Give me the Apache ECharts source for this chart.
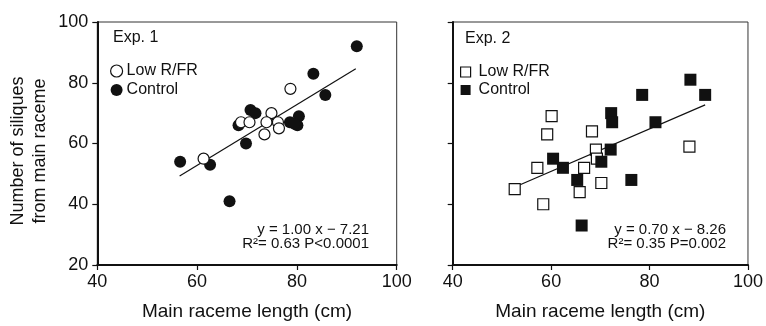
<!DOCTYPE html>
<html>
<head>
<meta charset="utf-8">
<script src="https://cdn.jsdelivr.net/npm/echarts@6/dist/echarts.min.js"></script>
<style>
  html, body { margin: 0; padding: 0; background: #fff; }
  #chart { width: 766px; height: 326px; }
</style>
</head>
<body>
<div id="chart"></div>
<script>
// x ticks and y ticks shared by both panels
const xTicks = [40, 60, 80, 100];
const yTicks = [20, 40, 60, 80, 100];

// Exp. 1 (circles)
const exp1Low = [
  [78.7, 78], [61.3, 55], [68.8, 67], [70.5, 67], [74.9, 70],
  [73.9, 67], [73.5, 63], [76.2, 67], [76.4, 65]
];
const exp1Control = [
  [92, 92], [83.3, 83], [85.7, 76], [56.6, 54], [62.6, 53],
  [66.5, 41], [69.8, 60], [68.3, 66], [70.7, 71], [71.7, 70],
  [78.6, 67], [80.4, 69], [80.1, 66], [79.5, 66.5]
];
const exp1Fit = [[56.5, 49.3], [91.8, 84.6]];

// Exp. 2 (squares)
const exp2Low = [
  [52.6, 45], [57.2, 52], [58.4, 40], [59.2, 63], [60.1, 69],
  [65.8, 44], [66.7, 52], [68.3, 64], [69.1, 58], [69.3, 55],
  [70.2, 47], [88.1, 59]
];
const exp2Control = [
  [88.3, 81], [91.3, 76], [78.5, 76], [81.2, 67], [72.2, 70],
  [72.4, 67], [72.1, 58], [70.2, 54], [60.4, 55], [62.4, 52],
  [65.3, 48], [76.3, 48], [66.2, 33]
];
const exp2Fit = [[52.4, 45.5], [91.3, 72.7]];

const font = "'Liberation Sans', Arial, sans-serif";
const ink = "#111";

const chart = echarts.init(document.getElementById("chart"));

function xAxisFor(gridIndex) {
  return {
    type: "value",
    gridIndex: gridIndex,
    min: xTicks[0],
    max: xTicks[xTicks.length - 1],
    interval: 20,
    name: "Main raceme length (cm)",
    nameLocation: "middle",
    nameGap: 37,
    nameTextStyle: { fontFamily: font, fontSize: 19, color: ink },
    axisLine: { lineStyle: { color: ink, width: 2 } },
    axisTick: { inside: false, length: 5, lineStyle: { color: ink, width: 1.2 } },
    axisLabel: { fontFamily: font, fontSize: 18, color: ink, margin: 8 },
    splitLine: { show: false }
  };
}

function yAxisFor(gridIndex, showLabels) {
  return {
    type: "value",
    gridIndex: gridIndex,
    min: yTicks[0],
    max: yTicks[yTicks.length - 1],
    interval: 20,
    axisLine: { show: true, lineStyle: { color: ink, width: 2 } },
    axisTick: { show: true, inside: false, length: 5, lineStyle: { color: ink, width: 1.2 } },
    axisLabel: { show: showLabels, fontFamily: font, fontSize: 18, color: ink, margin: 9 },
    splitLine: { show: false }
  };
}

const openStyle = { color: "#fff", borderColor: ink, borderWidth: 1.2, opacity: 1 };
const filledStyle = { color: ink, borderColor: ink, borderWidth: 0, opacity: 1 };

const option = {
  animation: false,
  backgroundColor: "#fff",
  textStyle: { fontFamily: font },
  grid: [
    { left: 97.3, top: 22, width: 299.4, height: 248, show: true, borderColor: "#333", borderWidth: 1 },
    { left: 452.7, top: 22, width: 296, height: 248, show: true, borderColor: "#333", borderWidth: 1 }
  ],
  xAxis: [xAxisFor(0), xAxisFor(1)],
  yAxis: [yAxisFor(0, true), yAxisFor(1, false)],
  legend: [
    {
      orient: "vertical",
      left: 110,
      top: 63,
      padding: 0,
      itemWidth: 12,
      itemHeight: 12,
      itemGap: 3,
      selectedMode: false,
      textStyle: { fontFamily: font, fontSize: 16, color: ink, padding: [0, 0, 0, -1] },
      data: [
        { name: "Low R/FR", icon: "circle", itemStyle: openStyle },
        { name: "Control", icon: "circle", itemStyle: filledStyle }
      ]
    },
    {
      orient: "vertical",
      left: 460,
      top: 64,
      padding: 0,
      itemWidth: 10,
      itemHeight: 10,
      itemGap: 2,
      selectedMode: false,
      textStyle: { fontFamily: font, fontSize: 16, color: ink, padding: [0, 0, 0, 3] },
      data: [
        { name: "Low R/FR", icon: "rect", itemStyle: openStyle },
        { name: "Control", icon: "rect", itemStyle: filledStyle }
      ]
    }
  ],
  graphic: [
    { type: "text", left: 113, top: 30, style: { text: "Exp. 1", font: "16px " + font, fill: ink } },
    { type: "text", left: 465, top: 31, style: { text: "Exp. 2", font: "16px " + font, fill: ink } },
    { type: "text", x: 369, y: 230, style: { text: "y = 1.00 x \u2212 7.21", font: "15px " + font, fill: ink, align: "right", verticalAlign: "middle" } },
    { type: "text", x: 369, y: 244, style: { text: "R\u00b2= 0.63 P<0.0001", font: "15px " + font, fill: ink, align: "right", verticalAlign: "middle" } },
    { type: "text", x: 726, y: 230, style: { text: "y = 0.70 x \u2212 8.26", font: "15px " + font, fill: ink, align: "right", verticalAlign: "middle" } },
    { type: "text", x: 726, y: 244, style: { text: "R\u00b2= 0.35 P=0.002", font: "15px " + font, fill: ink, align: "right", verticalAlign: "middle" } },
    {
      type: "text", x: 29, y: 151, rotation: Math.PI / 2,
      style: { text: "Number of siliques\nfrom main raceme", font: "18px " + font, fill: ink, align: "center", verticalAlign: "middle", lineHeight: 22 }
    }
  ],
  series: [
    {
      name: "Fit 1", type: "line", xAxisIndex: 0, yAxisIndex: 0, data: exp1Fit,
      symbol: "none", lineStyle: { color: ink, width: 1.2 }, z: 1
    },
    {
      name: "Control", type: "scatter", xAxisIndex: 0, yAxisIndex: 0, data: exp1Control,
      symbol: "circle", symbolSize: 12, itemStyle: filledStyle, z: 2
    },
    {
      name: "Low R/FR", type: "scatter", xAxisIndex: 0, yAxisIndex: 0, data: exp1Low,
      symbol: "circle", symbolSize: 11, itemStyle: openStyle, z: 3
    },
    {
      name: "Fit 2", type: "line", xAxisIndex: 1, yAxisIndex: 1, data: exp2Fit,
      symbol: "none", lineStyle: { color: ink, width: 1.2 }, z: 1
    },
    {
      name: "Low R/FR", type: "scatter", xAxisIndex: 1, yAxisIndex: 1, data: exp2Low,
      symbol: "rect", symbolSize: 11, itemStyle: openStyle, z: 2
    },
    {
      name: "Control", type: "scatter", xAxisIndex: 1, yAxisIndex: 1, data: exp2Control,
      symbol: "rect", symbolSize: 12, itemStyle: filledStyle, z: 3
    }
  ]
};

chart.setOption(option);
</script>
</body>
</html>
